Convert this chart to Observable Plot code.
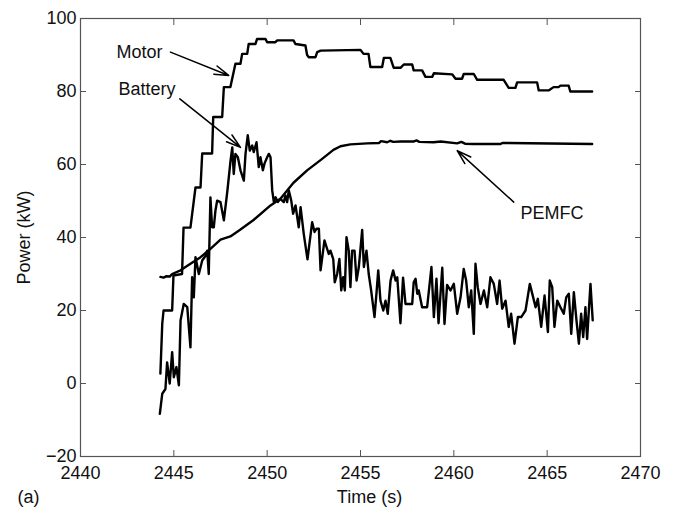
<!DOCTYPE html>
<html>
<head>
<meta charset="utf-8">
<script src="https://cdn.jsdelivr.net/npm/d3@7"></script>
<script src="https://cdn.jsdelivr.net/npm/@observablehq/plot@0.6"></script>
<style>
  html, body { margin: 0; padding: 0; background: #fff; }
  #chart { width: 676px; height: 511px; }
</style>
</head>
<body>
<div id="chart"></div>
<script>
// ---- data ----
const xTicks = [2440, 2445, 2450, 2455, 2460, 2465, 2470];
const yTicks = [-20, 0, 20, 40, 60, 80, 100];

const motorT = [2444.28,2444.38,2444.45,2444.91,2444.98,2445.44,2445.52,2445.89,2446.16,2446.43,2446.52,2447.05,2447.11,2447.59,2447.68,2448.03,2448.30,2448.57,2448.66,2448.93,2449.01,2449.37,2449.46,2449.91,2450.00,2450.44,2450.54,2451.41,2451.52,2452.05,2452.14,2452.23,2452.59,2452.68,2452.86,2455.00,2455.16,2455.43,2455.53,2456.16,2456.25,2456.60,2456.78,2457.14,2457.32,2457.77,2457.85,2458.30,2458.48,2458.84,2458.93,2459.91,2460.09,2460.44,2460.53,2461.07,2461.25,2462.67,2462.94,2463.30,2463.39,2464.46,2464.55,2465.08,2465.34,2465.61,2465.71,2466.15,2466.24,2467.41];
const motorP = [2.7,16.4,20,20,29.6,30,42.7,42.7,53.7,53.7,63,63,73,73,81.2,81.2,87.6,87.6,90.3,90.3,93,93,94.4,94.4,93.5,93.5,94,94,93,92.6,90,89.4,89.4,90.8,91.2,91.4,90.3,90.3,86.7,86.7,89.2,89.2,86.5,86.5,87.4,87.4,85.8,85.8,84,84,85,84.7,83.5,83.5,84.8,84.8,83.2,83.2,81,81,82.5,82.5,80.3,80.3,81.2,81.2,81.6,81.6,80,80];

const pemT = [2444.28,2444.45,2444.61,2444.78,2444.91,2445.36,2445.89,2446.43,2446.96,2447.50,2448.03,2448.57,2449.27,2450.18,2450.71,2451.41,2452.14,2452.86,2453.55,2453.93,2454.46,2455.36,2456.0,2456.1,2456.43,2456.6,2456.75,2457.14,2457.84,2458.0,2458.15,2458.91,2459.3,2460.18,2460.4,2460.6,2461.05,2462.5,2462.6,2467.41];
const pemP = [29.2,29.0,29.4,29.3,30,31,32.8,34.6,36.9,39.4,40.3,42.2,44.8,48.8,50.6,55.0,58.4,61.2,64.0,65.0,65.5,65.8,65.9,66.4,66.1,66.5,66.2,66.3,66.3,66.6,66.2,66.1,66.3,65.8,66.2,65.7,65.6,65.6,65.9,65.6];

const batT = [2444.25,2444.38,2444.55,2444.64,2444.78,2444.91,2445.00,2445.14,2445.27,2445.36,
2445.53,2445.72,2445.89,2445.98,2446.07,2446.16,2446.34,2446.52,2446.70,2446.79,
2446.87,2446.96,2447.05,2447.14,2447.23,2447.32,2447.50,2447.68,2447.86,2448.04,
2448.13,2448.21,2448.30,2448.43,2448.57,2448.75,2448.84,2448.96,2449.07,2449.20,
2449.28,2449.43,2449.55,2449.64,2449.77,2449.86,2450.00,2450.09,2450.18,2450.27,
2450.36,2450.45,2450.57,2450.71,2450.89,2450.98,2451.07,2451.16,2451.29,2451.39,
2451.52,2451.69,2451.79,2451.96,2452.16,2452.41,2452.54,2452.64,2452.77,2452.86,
2453.07,2453.18,2453.30,2453.39,2453.54,2453.62,2453.75,2453.87,2453.97,2454.07,
2454.16,2454.25,2454.37,2454.46,2454.55,2454.68,2454.79,2454.91,2455.09,2455.18,
2455.32,2455.44,2455.57,2455.75,2455.86,2455.95,2456.07,2456.22,2456.34,2456.46,
2456.61,2456.75,2456.88,2456.97,2457.14,2457.28,2457.41,2457.77,2457.85,2457.95,
2458.04,2458.12,2458.30,2458.57,2458.80,2458.93,2459.07,2459.18,2459.38,2459.50,
2459.64,2459.82,2460.00,2460.18,2460.36,2460.53,2460.66,2460.80,2460.93,2461.07,
2461.16,2461.28,2461.43,2461.61,2461.79,2461.96,2462.14,2462.32,2462.45,2462.59,
2462.77,2462.94,2463.07,2463.25,2463.43,2463.61,2463.84,2464.07,2464.25,2464.38,
2464.50,2464.68,2464.86,2465.04,2465.14,2465.27,2465.39,2465.54,2465.71,2465.89,
2466.02,2466.16,2466.29,2466.43,2466.57,2466.70,2466.82,2466.93,2467.05,2467.14,
2467.32,2467.44];
const batP = [-8.3,-2.8,-1.5,5.8,0,8.6,1.7,4.5,-0.5,17.3,
21.8,20.9,9.9,29.1,23.6,34.6,30,33.7,35,36.4,
30,51,42.8,42.8,47.4,50.1,49.7,44.7,52.4,61.1,
64.7,57.4,62.9,62,58.4,55.6,62.9,68,63.8,65.2,
63.4,66.1,59.3,62,58.4,60.3,62,62.9,62,52.9,
49.7,51,49.7,50.6,49.7,51.5,49.7,52.9,50.1,46.5,
48.8,42.8,48.3,41,34,44.2,41.5,42.4,42.4,31,
39.2,37.4,35.5,36.4,34.1,27.7,30,34.1,25.5,29.1,
25.5,40.1,36.4,26.4,36.4,36.4,28.2,31.9,42.1,31.9,
36.4,30,25.5,18.2,25,31,22.7,20,22.7,19.1,
28.2,31,28.2,29.1,16.5,29,21.8,21.8,27.7,28.7,
24.6,25.5,20.9,20.9,31.9,18.2,28.7,16.5,31.7,16.3,
27,25.5,27.3,19.1,23.6,31.4,28.2,20.9,25.5,13.6,
32.8,26.4,21.8,25.5,20.9,29.1,27.3,21.8,28.2,20.5,
22.7,15.5,19.1,10.9,18.2,18.2,20,27.3,23.6,20.9,
23.2,15.5,24.1,14.1,28.2,26.4,15.5,22.7,20.9,19.1,
23.6,24.6,13.6,25,17.3,10.9,19.1,12.7,20.9,12.2,
27.3,17.3];

// annotations
const labelText = ["Motor", "Battery", "PEMFC"];
const labelT = [2441.93, 2442.04, 2463.57];
const labelP = [90.7, 80.5, 46.7];
const arrowT1 = [2444.82, 2445.32, 2463.21];
const arrowP1 = [90.8, 78.0, 49.7];
const arrowT2 = [2447.94, 2448.57, 2460.18];
const arrowP2 = [84.4, 64.7, 63.8];

// ---- build tables ----
const toRows = (T, P) => T.map((t, i) => ({t, p: P[i]}));
const motor = toRows(motorT, motorP);
const pem = toRows(pemT, pemP);
const bat = toRows(batT, batP);
const labels = labelText.map((s, i) => ({s, t: labelT[i], p: labelP[i]}));
const arrows = arrowT1.map((t, i) => ({t1: t, p1: arrowP1[i], t2: arrowT2[i], p2: arrowP2[i]}));

const axisColor = "#555";
const font = "'Liberation Sans', Arial, Helvetica, sans-serif";

const chart = Plot.plot({
  width: 676,
  height: 511,
  marginLeft: 80,
  marginRight: 36,
  marginTop: 18,
  marginBottom: 55,
  style: {fontFamily: font, fontSize: "18px", color: "#111", background: "#fff", overflow: "visible"},
  x: {domain: [2440, 2470]},
  y: {domain: [-20, 100]},
  marks: [
    Plot.frame({stroke: axisColor, strokeWidth: 1.2}),
    Plot.axisX({ticks: xTicks, tickSize: -6, tickPadding: 16, stroke: axisColor, label: null, fontSize: 18, tickFormat: d => String(d)}),
    Plot.axisX({anchor: "top", ticks: xTicks, tickSize: -6, stroke: axisColor, label: null, tickFormat: () => ""}),
    Plot.axisY({ticks: yTicks, tickSize: -6, tickPadding: 10, stroke: axisColor, fontSize: 18,
      label: "Power (kW)", labelAnchor: "center", labelOffset: 63, labelArrow: "none"}),
    Plot.axisY({anchor: "right", ticks: yTicks, tickSize: -6, stroke: axisColor, label: null, tickFormat: () => ""}),
    Plot.line(pem, {x: "t", y: "p", stroke: "#000", strokeWidth: 2.4}),
    Plot.line(bat, {x: "t", y: "p", stroke: "#000", strokeWidth: 2.4, strokeLinejoin: "round"}),
    Plot.line(motor, {x: "t", y: "p", stroke: "#000", strokeWidth: 2.4}),
    Plot.arrow(arrows, {x1: "t1", y1: "p1", x2: "t2", y2: "p2", stroke: "#000", strokeWidth: 1.5, headLength: 15, headAngle: 34}),
    Plot.text(labels, {x: "t", y: "p", text: "s", textAnchor: "start", fontSize: 18, fill: "#111"}),
    Plot.text(["Time (s)"], {frameAnchor: "bottom", dx: 9, dy: 46, text: d => d, fontSize: 18, fill: "#111"}),
    Plot.text(["(a)"], {frameAnchor: "bottom-left", dx: -63, dy: 46, text: d => d, textAnchor: "start", fontSize: 18, fill: "#111"})
  ]
});
document.getElementById("chart").appendChild(chart);
</script>
</body>
</html>
